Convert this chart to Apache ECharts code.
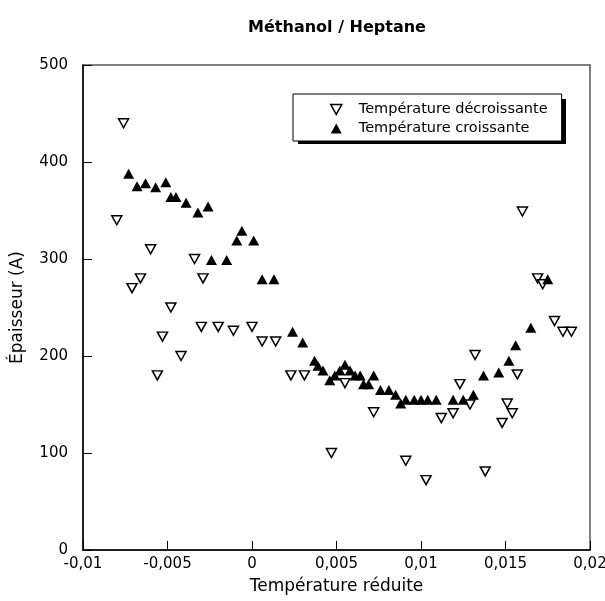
<!DOCTYPE html>
<html>
<head>
<meta charset="utf-8">
<script src="https://cdn.jsdelivr.net/npm/echarts@6/dist/echarts.min.js"></script>
<style>html,body{margin:0;padding:0;background:#fff}#c{width:605px;height:601px}</style>
</head>
<body>
<div id="c"></div>
<script>
var title = 'Méthanol / Heptane';
var xName = 'Température réduite';
var yName = 'Épaisseur (A)';
var seriesNames = ['Température décroissante', 'Température croissante'];
var xTicks = [-0.01, -0.005, 0, 0.005, 0.01, 0.015, 0.02];
var yTicks = [0, 100, 200, 300, 400, 500];

var decroissante = [
  [-0.0080, 340], [-0.0076, 440], [-0.0071, 270], [-0.0066, 280], [-0.0060, 310],
  [-0.0056, 180], [-0.0053, 220], [-0.0048, 250], [-0.0042, 200], [-0.0034, 300],
  [-0.0030, 230], [-0.0029, 280], [-0.0020, 230], [-0.0011, 226], [0.0000, 230],
  [0.0006, 215], [0.0014, 215], [0.0023, 180], [0.0031, 180], [0.0047, 100],
  [0.0055, 172], [0.0072, 142], [0.0091, 92], [0.0103, 72], [0.0112, 136],
  [0.0119, 141], [0.0123, 171], [0.0129, 150], [0.0132, 201], [0.0138, 81],
  [0.0148, 131], [0.0151, 151], [0.0154, 141], [0.0157, 181], [0.0160, 349],
  [0.0169, 280], [0.0172, 274], [0.0179, 236], [0.0184, 225], [0.0189, 225]
];
var croissante = [
  [-0.0073, 388], [-0.0068, 375], [-0.0063, 378], [-0.0057, 374], [-0.0051, 379],
  [-0.0048, 364], [-0.0045, 364], [-0.0039, 358], [-0.0032, 348], [-0.0026, 354],
  [-0.0024, 299], [-0.0015, 299], [-0.0009, 319], [-0.0006, 329], [0.0001, 319],
  [0.0006, 279], [0.0013, 279], [0.0024, 225], [0.0030, 214], [0.0037, 195],
  [0.0039, 190], [0.0042, 185], [0.0046, 175], [0.0049, 180], [0.0052, 185],
  [0.0055, 191], [0.0058, 185], [0.0061, 180], [0.0064, 180], [0.0066, 171],
  [0.0069, 171], [0.0072, 180], [0.0076, 165], [0.0081, 165], [0.0085, 160],
  [0.0088, 151], [0.0091, 155], [0.0096, 155], [0.0100, 155], [0.0104, 155],
  [0.0109, 155], [0.0119, 155], [0.0125, 155], [0.0131, 160], [0.0137, 180],
  [0.0146, 183], [0.0152, 195], [0.0156, 211], [0.0165, 229], [0.0175, 279]
];

var FONT = '"DejaVu Sans", "Liberation Sans", Arial, sans-serif';
function fmt(v) {
  var r = Math.round(v * 1000) / 1000;
  return String(r).replace('.', ',');
}

var chart = echarts.init(document.getElementById('c'), null, {renderer: 'canvas'});
chart.setOption({
  animation: false,
  backgroundColor: '#fff',
  title: {
    text: title,
    left: 332, textAlign: 'center', top: 15,
    textStyle: {fontFamily: FONT, fontSize: 16, fontWeight: 'bold', color: '#000'}
  },
  graphic: [
    {type: 'rect', left: 298, top: 99, z: 1, silent: true,
     shape: {width: 268, height: 45}, style: {fill: '#000'}}
  ],
  legend: {
    orient: 'vertical',
    left: 293, top: 94,
    padding: [8, 14, 5, 37],
    itemGap: 4,
    itemWidth: 11, itemHeight: 10,
    backgroundColor: '#fff',
    borderColor: '#000', borderWidth: 1,
    z: 10,
    textStyle: {fontFamily: FONT, fontSize: 14.5, color: '#000', lineHeight: 14, padding: [0, 0, 0, 12]},
    data: [
      {name: seriesNames[0], icon: 'path://M0,0L10,0L5,9Z',
       itemStyle: {color: '#fff', borderColor: '#000', borderWidth: 1.5}},
      {name: seriesNames[1], icon: 'path://M5,0L10,9L0,9Z',
       itemStyle: {color: '#000', borderWidth: 0}}
    ]
  },
  grid: {
    left: 83, right: 15, top: 65, bottom: 51,
    outerBoundsMode: 'none', containLabel: false,
    show: true, borderColor: '#555', borderWidth: 1.5, backgroundColor: 'transparent'
  },
  xAxis: {
    type: 'value', min: xTicks[0], max: xTicks[xTicks.length - 1], interval: 0.005,
    name: xName, nameLocation: 'middle', nameGap: 28,
    nameTextStyle: {fontFamily: FONT, fontSize: 17, color: '#000'},
    axisLine: {show: true, onZero: false, lineStyle: {color: '#000', width: 1.5}},
    axisTick: {show: true, inside: true, length: 9, lineStyle: {color: '#000', width: 1}},
    axisLabel: {fontFamily: FONT, fontSize: 15, color: '#000', margin: 7, formatter: fmt},
    splitLine: {show: false}
  },
  yAxis: {
    type: 'value', min: yTicks[0], max: yTicks[yTicks.length - 1], interval: 100,
    name: yName, nameLocation: 'middle', nameGap: 57, nameRotate: 90,
    nameTextStyle: {fontFamily: FONT, fontSize: 17, color: '#000'},
    axisLine: {show: true, onZero: false, lineStyle: {color: '#000', width: 1.5}},
    axisTick: {show: true, inside: true, length: 9, lineStyle: {color: '#000', width: 1}},
    axisLabel: {fontFamily: FONT, fontSize: 15, color: '#000', margin: 15},
    splitLine: {show: false}
  },
  series: [
    {
      name: seriesNames[0], type: 'scatter', data: decroissante,
      symbol: 'triangle', symbolRotate: 180, symbolSize: [10, 9],
      itemStyle: {color: '#fff', borderColor: '#000', borderWidth: 1.5, opacity: 1},
      z: 2
    },
    {
      name: seriesNames[1], type: 'scatter', data: croissante,
      symbol: 'triangle', symbolSize: [11, 10],
      itemStyle: {color: '#000', borderColor: '#000', borderWidth: 0, opacity: 1},
      z: 3
    }
  ]
});
</script>
</body>
</html>
